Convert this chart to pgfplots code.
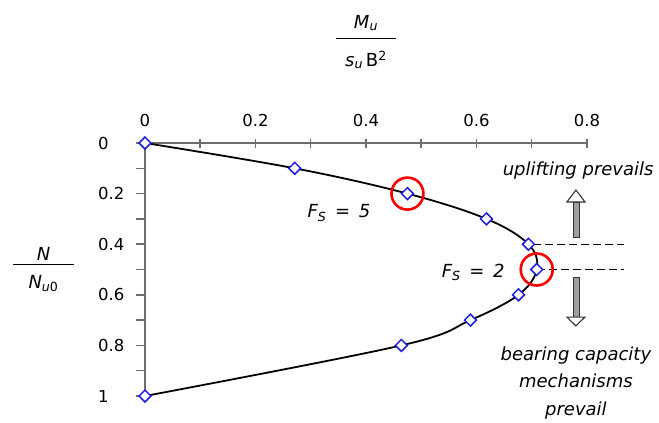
\documentclass[border=0pt]{standalone}
\usepackage{fontspec}
\setmainfont{DejaVu Sans}
\usepackage{pgfplots}
\pgfplotsset{compat=1.18}

\definecolor{mkblue}{RGB}{30,30,225}
\definecolor{axgray}{RGB}{110,110,110}

\newcommand\tk{\fontsize{16.5bp}{19bp}\selectfont}
\newcommand\an{\fontsize{18bp}{22bp}\selectfont}

\begin{document}
\begin{tikzpicture}
\begin{axis}[
  scale only axis, width=442bp, height=253bp,
  xmin=0, xmax=0.8, ymin=0, ymax=1,
  y dir=reverse,
  axis x line=top, axis y line=left,
  axis line style={-, axgray, line width=1.6bp},
  xtick={0,0.2,0.4,0.6,0.8}, ytick={0,0.2,0.4,0.6,0.8,1},
  minor x tick num=1, minor y tick num=1,
  xtick align=center, ytick align=outside,
  major tick length=9bp, minor tick length=9bp,
  tick style={draw=axgray, line width=1.5bp},
  ticklabel style={font=\tk},
  /pgf/number format/assume math mode=true,
  xticklabel style={inner sep=0pt, yshift=12bp},
  yticklabel style={anchor=west, inner sep=0pt, xshift=-38bp},
  clip=false,
]
\addplot[black, line width=1.8bp, smooth, tension=0.6,
  mark=square*, mark size=4.2bp,
  mark options={rotate=45, draw=mkblue, fill=white, line width=1.5bp, solid}]
  coordinates {
  (0,0) (0.271,0.1) (0.475,0.2) (0.618,0.3) (0.694,0.4)
  (0.709,0.5) (0.676,0.6) (0.589,0.7) (0.464,0.8) (0,1)
};
\addplot[only marks, mark=o, mark size=16bp, mark options={red, line width=2.6bp}]
  coordinates {(0.475,0.2) (0.709,0.5)};
\addplot[black, line width=1.2bp, dash pattern=on 8bp off 4bp]
  coordinates {(0.702,0.4) (0.867,0.4)};
\addplot[black, line width=1.2bp, dash pattern=on 8bp off 4bp]
  coordinates {(0.709,0.5) (0.867,0.5)};

% arrows
\draw[fill=gray!75, draw=gray!40!black, line width=0.8bp]
  ([xshift=-3bp]axis cs:0.780,0.375) rectangle ([xshift=3bp]axis cs:0.780,0.233);
\draw[fill=white, draw=gray!40!black, line width=1.1bp]
  (axis cs:0.780,0.186) -- ([xshift=9bp]axis cs:0.780,0.233)
  -- ([xshift=-9bp]axis cs:0.780,0.233) -- cycle;
\draw[fill=gray!75, draw=gray!40!black, line width=0.8bp]
  ([xshift=-3bp]axis cs:0.780,0.530) rectangle ([xshift=3bp]axis cs:0.780,0.688);
\draw[fill=white, draw=gray!40!black, line width=1.1bp]
  (axis cs:0.780,0.723) -- ([xshift=9bp]axis cs:0.780,0.688)
  -- ([xshift=-9bp]axis cs:0.780,0.688) -- cycle;

% annotations
\node[font=\an\itshape, anchor=base] at (axis cs:0.784,0.1265) {uplifting prevails};
\node[font=\an\itshape, anchor=base] at (axis cs:0.780,0.858) {bearing capacity};
\node[font=\an\itshape, anchor=base] at (axis cs:0.780,0.968) {mechanisms};
\node[font=\an\itshape, anchor=base] at (axis cs:0.780,1.079) {prevail};
\node[font=\an\itshape, anchor=base] at (axis cs:0.351,0.296) {F\textsubscript{S}\ \,=\ \,5};
\node[font=\an\itshape, anchor=base] at (axis cs:0.594,0.530) {F\textsubscript{S}\ \,=\ \,2};

% axis titles
\node[font=\an, align=center, anchor=north, inner sep=0pt] at (axis cs:0.4,-0.506)
  {\textit{M}\textsubscript{\textit{u}}\\[-11.25bp]\rule{60bp}{1.5bp}\\[5.25bp]\textit{s}\textsubscript{\textit{u}}\,B\textsuperscript{2}};
\node[font=\an, align=center, anchor=north, inner sep=0pt] at (axis cs:-0.1837,0.411)
  {\textit{N}\\[-17.25bp]\rule{61bp}{1.5bp}\\[1.25bp]\textit{N}\textsubscript{\textit{u}0}};

\coordinate (O) at (axis cs:0,1);
\end{axis}
\pgfresetboundingbox
\path[use as bounding box] (O) ++(-145bp,-27bp) rectangle ++(659bp,423bp);
\end{tikzpicture}
\end{document}
